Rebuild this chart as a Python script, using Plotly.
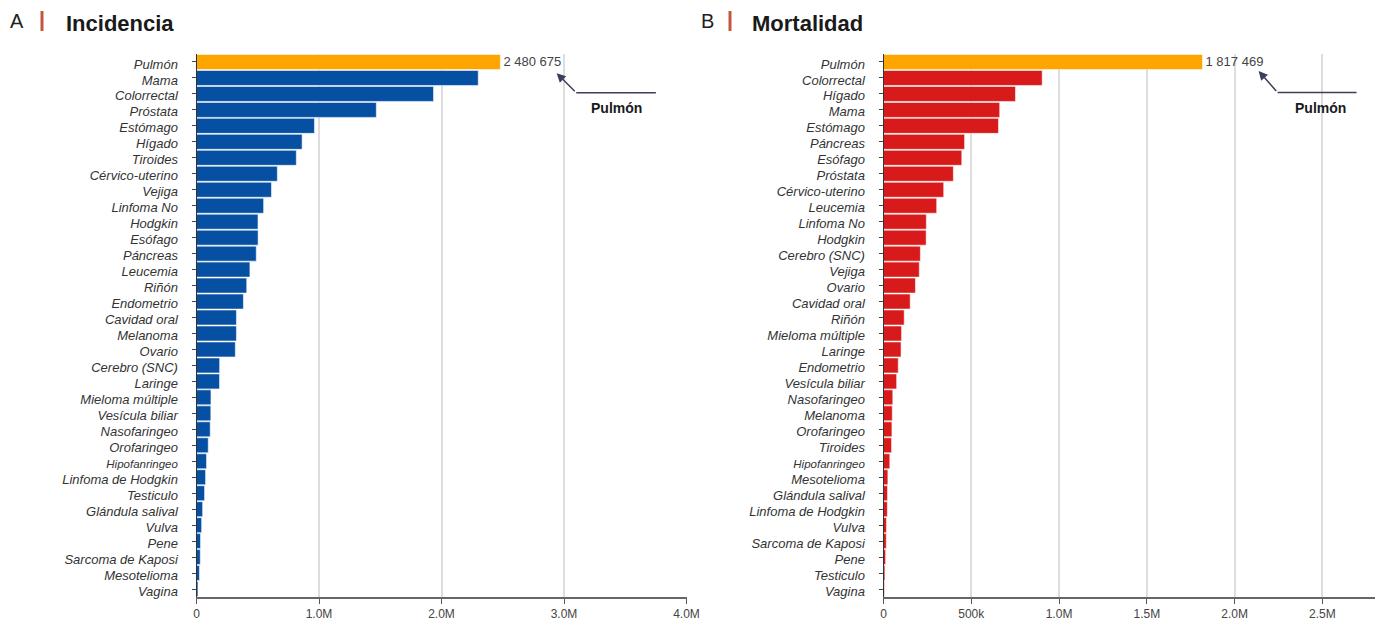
import plotly.graph_objects as go

# Incidencia (casos nuevos)
inc_labels = ["Pulmón", "Mama", "Colorrectal", "Próstata", "Estómago", "Hígado", "Tiroides",
              "Cérvico-uterino", "Vejiga", "Linfoma No", "Hodgkin", "Esófago", "Páncreas",
              "Leucemia", "Riñón", "Endometrio", "Cavidad oral", "Melanoma", "Ovario",
              "Cerebro (SNC)", "Laringe", "Mieloma múltiple", "Vesícula biliar", "Nasofaringeo",
              "Orofaringeo", "Hipofanringeo", "Linfoma de Hodgkin", "Testiculo", "Glándula salival",
              "Vulva", "Pene", "Sarcoma de Kaposi", "Mesotelioma", "Vagina"]
inc_values = [2480675, 2300000, 1935000, 1468000, 963000, 862000, 815000,
              660000, 612000, 548000, 502000, 503000, 488000,
              436000, 410000, 383000, 326000, 326000, 317000,
              189000, 188000, 118000, 117000, 112000,
              96000, 82000, 74000, 66000, 50000,
              42000, 33000, 31000, 24000, 12000]

# Mortalidad (defunciones)
mort_labels = ["Pulmón", "Colorrectal", "Hígado", "Mama", "Estómago", "Páncreas", "Esófago",
               "Próstata", "Cérvico-uterino", "Leucemia", "Linfoma No", "Hodgkin", "Cerebro (SNC)",
               "Vejiga", "Ovario", "Cavidad oral", "Riñón", "Mieloma múltiple", "Laringe",
               "Endometrio", "Vesícula biliar", "Nasofaringeo", "Melanoma", "Orofaringeo",
               "Tiroides", "Hipofanringeo", "Mesotelioma", "Glándula salival", "Linfoma de Hodgkin",
               "Vulva", "Sarcoma de Kaposi", "Pene", "Testiculo", "Vagina"]
mort_values = [1817469, 904000, 752000, 662000, 655000, 462000, 446000,
               398000, 343000, 303000, 244000, 243000, 210000,
               204000, 182000, 152000, 118000, 103000, 100000,
               84000, 75000, 53000, 50000, 48000,
               46000, 36000, 25000, 23000, 22000,
               17000, 16000, 12000, 8000, 5000]

inc_ticks = [0, 1_000_000, 2_000_000, 3_000_000, 4_000_000]
inc_ticktext = ["0", "1.0M", "2.0M", "3.0M", "4.0M"]
mort_ticks = [0, 500_000, 1_000_000, 1_500_000, 2_000_000, 2_500_000]
mort_ticktext = ["0", "500k", "1.0M", "1.5M", "2.0M", "2.5M"]

HIGHLIGHT = "#FFA500"
BLUE = "#0650A3"
RED = "#D81A1A"
FONT = "Liberation Sans, Arial, sans-serif"
W, H = 1389, 628
M_T, M_B = 54, 31
PLOT_H = H - M_T - M_B


def fmt(v):
    return f"{v:,}".replace(",", " ")


def ticklabel(name):
    if name == "Hipofanringeo":
        return '<span style="font-size:11.5px">' + name + "</span>"
    return name


def px(x):
    return x / W


def py(y):
    return (H - M_B - y) / PLOT_H


fig = go.Figure()

for labels, values, color, xa, ya in [
    (inc_labels, inc_values, BLUE, "x", "y"),
    (mort_labels, mort_values, RED, "x2", "y2"),
]:
    colors = [HIGHLIGHT] + [color] * (len(values) - 1)
    texts = [fmt(values[0])] + [""] * (len(values) - 1)
    fig.add_trace(go.Bar(
        x=values, y=labels, orientation="h",
        marker=dict(color=colors, line=dict(color="rgba(255,255,255,0.55)", width=1)),
        text=texts, textposition="outside", constraintext="none", cliponaxis=False,
        textfont=dict(family=FONT, size=13, color="#444"),
        xaxis=xa, yaxis=ya, showlegend=False, hoverinfo="x+y",
    ))

axis_common = dict(
    showgrid=True, gridcolor="#dddddd", gridwidth=1.5,
    showline=True, linecolor="#666", linewidth=2,
    ticks="outside", ticklen=5, tickcolor="#555", zeroline=False,
    tickfont=dict(family=FONT, size=12, color="#444"),
    fixedrange=True, automargin=False,
)
yaxis_common = dict(
    type="category", autorange="reversed",
    showline=True, linecolor="#333", linewidth=1,
    ticks="outside", ticklen=4, tickcolor="#444", showgrid=False,
    ticklabelstandoff=11, ticklabelshift=-2,
    tickfont=dict(family=FONT, size=13, color="#333", style="italic"),
    fixedrange=True, automargin=False,
)

fig.update_layout(
    width=W, height=H,
    margin=dict(l=0, r=0, t=M_T, b=M_B, autoexpand=False),
    paper_bgcolor="white", plot_bgcolor="white",
    bargap=0.06,
    xaxis=dict(domain=[px(196.5), px(686.5)], range=[0, 4_000_000],
               tickvals=inc_ticks, ticktext=inc_ticktext, anchor="y", **axis_common),
    yaxis=dict(domain=[0, 1], anchor="x", categoryorder="array", categoryarray=inc_labels,
               tickvals=inc_labels, ticktext=[ticklabel(n) for n in inc_labels], **yaxis_common),
    xaxis2=dict(domain=[px(883.5), px(1375)], range=[0, 2_800_000],
                tickvals=mort_ticks, ticktext=mort_ticktext, anchor="y2", **axis_common),
    yaxis2=dict(domain=[0, 1], anchor="x2", categoryorder="array", categoryarray=mort_labels,
                tickvals=mort_labels, ticktext=[ticklabel(n) for n in mort_labels], **yaxis_common),
)

annotations = []
shapes = []

# Panel headers
for letter, title, lx, barx, tx in [("A", "Incidencia", 17, 42, 64), ("B", "Mortalidad", 707, 730, 750)]:
    annotations.append(dict(text=letter, xref="paper", yref="paper", x=px(lx), y=py(21),
                            xanchor="center", yanchor="middle", showarrow=False,
                            font=dict(family=FONT, size=20, color="#222")))
    annotations.append(dict(text="<b>" + title + "</b>", xref="paper", yref="paper", x=px(tx), y=py(23),
                            xanchor="left", yanchor="middle", showarrow=False,
                            font=dict(family=FONT, size=22, color="#1a1a1a")))
    shapes.append(dict(type="line", xref="paper", yref="paper", x0=px(barx), x1=px(barx),
                       y0=py(11), y1=py(31), line=dict(color="#C2573F", width=3)))

# Callouts pointing to the highlighted bar
ARROW = "#3b3f5e"
for xa, ya, tip, bend, end, label_x in [
    ("x", "y", (2_940_000, 0.7), (3_100_000, 1.93), 3_750_000, 3_430_000),
    ("x2", "y2", (2_137_000, 0.56), (2_245_000, 1.91), 2_695_000, 2_490_000),
]:
    shapes.append(dict(type="line", xref=xa, yref=ya, x0=bend[0], x1=end, y0=bend[1], y1=bend[1],
                       line=dict(color=ARROW, width=1.5)))
    annotations.append(dict(x=tip[0], y=tip[1], xref=xa, yref=ya, ax=bend[0], ay=bend[1],
                            axref=xa, ayref=ya, text="", showarrow=True, arrowhead=2,
                            arrowsize=1.2, arrowwidth=1.5, arrowcolor=ARROW, standoff=0))
    annotations.append(dict(x=label_x, y=2.85, xref=xa, yref=ya, text="<b>Pulmón</b>",
                            showarrow=False, xanchor="center", yanchor="middle",
                            font=dict(family=FONT, size=14, color="#1a1a1a")))

fig.update_layout(annotations=annotations, shapes=shapes)
fig.write_html("out.html")
